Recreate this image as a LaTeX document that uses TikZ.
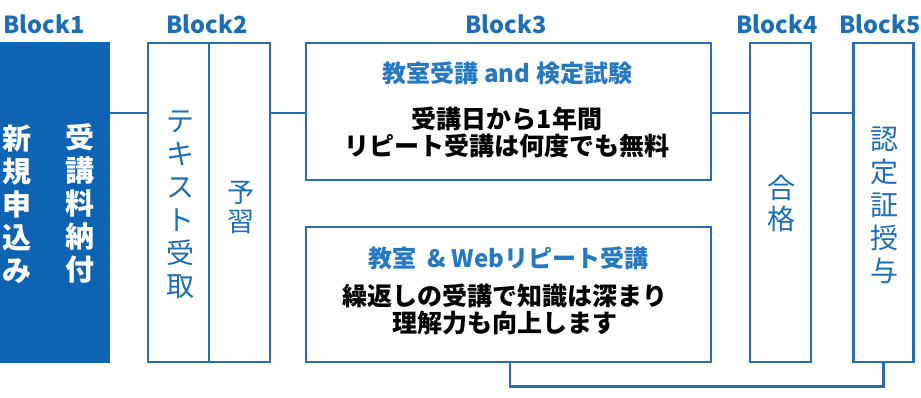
\documentclass[tikz,border=0pt]{standalone}
\usepackage{fontspec}
\setmainfont{Noto Sans CJK JP}
\definecolor{fillblue}{RGB}{14,100,178}
\definecolor{lineblue}{RGB}{40,110,178}
\definecolor{labelblue}{RGB}{30,110,182}
\definecolor{titleblue}{RGB}{38,120,192}
\tikzset{
  box/.style={draw=lineblue, line width=2.8pt, fill=white, inner sep=0pt},
  conn/.style={draw=lineblue, line width=2.8pt},
  blocklabel/.style={text=labelblue, font=\fontsize{23.5}{26}\selectfont\bfseries, inner sep=0pt},
  vtext/.style={text=labelblue, align=center, inner sep=0pt, font=\fontsize{28}{33}\selectfont},
  vtextw/.style={text=white, align=center, inner sep=0pt, font=\fontsize{29}{33}\selectfont\bfseries},
  boxtitle/.style={text=titleblue, inner sep=0pt, font=\fontsize{24}{26}\selectfont\bfseries},
  boxbody/.style={text=black, align=center, inner sep=0pt, font=\fontsize{25}{27.5}\selectfont\bfseries}
}
\begin{document}
\begin{tikzpicture}[x=1pt,y=-1pt]
\useasboundingbox[fill=white] (0,0) rectangle (921,398);
% block labels
\node[blocklabel] (l1) at (44,24) {Block1};
\node[blocklabel] (l2) at (207,24) {Block2};
\node[blocklabel] (l3) at (506,24) {Block3};
\node[blocklabel] (l4) at (777,24) {Block4};
\node[blocklabel] (l5) at (880,24) {Block5};
% boxes
\node[fill=fillblue, inner sep=0pt, minimum width=110pt, minimum height=321pt] (b1) at (55,202.5) {};
\coordinate (yl) at (0,113);
\coordinate (c1) at (510,386.5);
\node[box, minimum width=61pt, minimum height=319pt] (b2a) at (178.5,202.5) {};
\node[box, minimum width=61pt, minimum height=319pt] (b2b) at (239.5,202.5) {};
\node[box, minimum width=405pt, minimum height=137pt] (b3a) at (508.5,111.5) {};
\node[box, minimum width=405pt, minimum height=135pt] (b3b) at (508.5,294.5) {};
\node[box, minimum width=61pt, minimum height=319pt] (b4) at (780.5,202.5) {};
\node[box, minimum width=60pt, minimum height=319pt] (b5) at (883.5,202.5) {};
% connectors
\draw[conn] (b1.east |- yl) -- (b2a.west |- yl);
\draw[conn] (b2b.east |- yl) -- (b3a.west |- yl);
\draw[conn] (b3a.east |- yl) -- (b4.west |- yl);
\draw[conn] (b4.east |- yl) -- (b5.west |- yl);
\draw[conn] (b3b.south -| c1) -- (c1) -| (b5.south);
% texts
\node[vtextw] (t1a) at (17,204) {新\\規\\申\\込\\み};
\node[vtextw] (t1b) at (80,203) {受\\講\\料\\納\\付};
\node[vtext] (t2a) at (180,205) {テ\\キ\\ス\\ト\\受\\取};
\node[vtext, font=\fontsize{27}{29}\selectfont] (t2b) at (240.5,207) {予\\習};
\node[vtext, font=\fontsize{28}{31}\selectfont] (t4) at (781,203) {合\\格};
\node[vtext] (t5) at (884,205) {認\\定\\証\\授\\与};
\node[boxtitle] (t3a) at (507.5,73) {教室受講\ and\ 検定試験};
\node[boxbody] (t3b) at (507,132.5) {受講日から1年間\\リピート受講は何度でも無料};
\node[boxtitle] (t3c) at (508.5,258) {教室\ \ \&\ Webリピート受講};
\node[boxbody] (t3d) at (505,309.5) {繰返しの受講で知識は深まり\\理解力も向上します};
\end{tikzpicture}
\end{document}
